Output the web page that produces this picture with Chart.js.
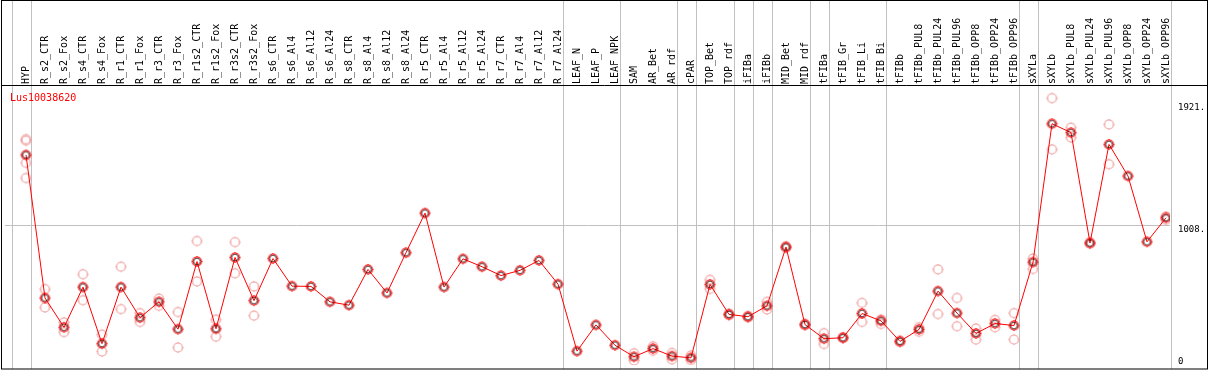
<!DOCTYPE html>
<html>
<head>
<meta charset="utf-8">
<script src="https://cdn.jsdelivr.net/npm/chart.js@4.4.0/dist/chart.umd.min.js"></script>
<style>
    html, body { margin: 0; padding: 0; background: #fff; }
    canvas { display: block; }
</style>
</head>
<body>
<canvas id="expr-chart" width="1209" height="370"></canvas>
<script>
var geneName = 'Lus10038620';

var categories = [
    'HYP', 'R_s2_CTR', 'R_s2_Fox', 'R_s4_CTR', 'R_s4_Fox', 'R_r1_CTR', 'R_r1_Fox', 'R_r3_CTR', 'R_r3_Fox',
    'R_r1s2_CTR', 'R_r1s2_Fox', 'R_r3s2_CTR', 'R_r3s2_Fox', 'R_s6_CTR', 'R_s6_Al4', 'R_s6_Al12', 'R_s6_Al24',
    'R_s8_CTR', 'R_s8_Al4', 'R_s8_Al12', 'R_s8_Al24', 'R_r5_CTR', 'R_r5_Al4', 'R_r5_Al12', 'R_r5_Al24',
    'R_r7_CTR', 'R_r7_Al4', 'R_r7_Al12', 'R_r7_Al24', 'LEAF_N', 'LEAF_P', 'LEAF_NPK', 'SAM', 'AR_Bet', 'AR_rdf',
    'cPAR', 'TOP_Bet', 'TOP_rdf', 'iFIBa', 'iFIBb', 'MID_Bet', 'MID_rdf', 'tFIBa', 'tFIB_Gr', 'tFIB_Li', 'tFIB_Bi',
    'tFIBb', 'tFIBb_PUL8', 'tFIBb_PUL24', 'tFIBb_PUL96', 'tFIBb_OPP8', 'tFIBb_OPP24', 'tFIBb_OPP96',
    'sXYLa', 'sXYLb', 'sXYLb_PUL8', 'sXYLb_PUL24', 'sXYLb_PUL96', 'sXYLb_OPP8', 'sXYLb_OPP24', 'sXYLb_OPP96'
];

// mean expression per sample
var meanValues = [
    1538, 471, 252, 552, 130, 552, 324, 442, 238, 743, 241, 773, 451, 765, 559, 557, 442, 417, 684, 508,
    809, 1104, 552, 763, 704, 638, 677, 751, 574, 74, 270, 118, 32, 93, 37, 24, 572, 348, 331, 412,
    851, 272, 167, 174, 355, 300, 147, 236, 522, 358, 206, 280, 265, 738, 1771, 1705, 881, 1617, 1381, 890,
    1069
];

// replicates (null = none shown)
var repA = [
    1656, 537, 289, 648, 197, 704, 358, 466, 366, 896, 309, 888, 557, null, null, null, null, null, null, null,
    null, null, null, null, null, null, null, null, null, null, null, null, 58, 110, 61, 42, 606, 356, 337, 442,
    857, 279, 208, 178, 434, 311, 155, 252, 684, 471, 243, 307, 358, 765, 1962, 1742, 887, 1766, null, null,
    1079
];
var repB = [
    1479, 400, 216, 454, 71, 388, 292, 412, 101, 594, 182, 655, 339, null, null, null, null, null, null, null,
    null, null, null, null, null, null, null, null, null, null, null, null, 4, 77, 13, 7, 538, 340, 325, 385,
    845, 265, 127, 170, 292, 277, 140, 219, 351, 260, 160, 252, 160, 687, 1580, 1668, 875, 1469, null, null,
    1054
];
var repC = [1645];
var repD = [1366];

var yTicks = [0, 1008, 1921];
var yTickLabels = ['0', '1008.', '1921.'];
// group separators sit just after these sample indexes
var groupEnds = [-1, 0, 28, 31, 34, 35, 37, 38, 39, 41, 42, 45, 52, 53, 60];

var MONO = '"DejaVu Sans Mono", "Liberation Mono", monospace';

function toPoints(arr) {
    var pts = [];
    arr.forEach(function (v, i) {
        if (v !== null && v !== undefined) pts.push({ x: i, y: v });
    });
    return pts;
}

function makeMarker(ring, inner) {
    var c = document.createElement('canvas');
    c.width = 15; c.height = 15;
    var g = c.getContext('2d');
    g.strokeStyle = ring;
    g.lineWidth = 1.2;
    g.beginPath(); g.arc(7.5, 7.5, 4.5, 0, Math.PI * 2); g.stroke();
    g.lineWidth = 1;
    g.beginPath();
    g.moveTo(7.5, 2); g.lineTo(7.5, 3);
    g.moveTo(7.5, 12); g.lineTo(7.5, 13);
    g.moveTo(2, 7.5); g.lineTo(3, 7.5);
    g.moveTo(12, 7.5); g.lineTo(13, 7.5);
    g.stroke();
    if (inner) {
        g.strokeStyle = inner;
        g.lineWidth = 0.8;
        g.beginPath(); g.arc(7.5, 7.5, 3.3, 0, Math.PI * 2); g.stroke();
    }
    return c;
}

var meanMarker = makeMarker('#ff0000', '#200000');
var repMarker = makeMarker('#ee9a9a', null);

var framePlugin = {
    id: 'frame',
    beforeDatasetsDraw: function (chart) {
        var ctx = chart.ctx;
        var xs = chart.scales.x;
        ctx.save();
        ctx.strokeStyle = '#c0c0c0';
        ctx.lineWidth = 1;
        groupEnds.forEach(function (i) {
            var px = Math.round(xs.getPixelForValue(i + 0.25)) + 0.5;
            ctx.beginPath();
            ctx.moveTo(px, 0);
            ctx.lineTo(px, 369);
            ctx.stroke();
        });
        ctx.restore();
    },
    afterDraw: function (chart) {
        var ctx = chart.ctx;
        var ys = chart.scales.y;
        ctx.save();
        ctx.strokeStyle = '#000';
        ctx.lineWidth = 1;
        ctx.strokeRect(1.5, 0.5, 1206, 368.5);
        ctx.beginPath();
        ctx.moveTo(1, 85.5);
        ctx.lineTo(1208, 85.5);
        ctx.stroke();

        ctx.fillStyle = '#ff0000';
        ctx.font = '10px ' + MONO;
        ctx.textBaseline = 'alphabetic';
        ctx.textAlign = 'left';
        ctx.fillText(geneName, 10, 101);

        ctx.fillStyle = '#000';
        ctx.font = '9px ' + MONO;
        ctx.textBaseline = 'middle';
        yTicks.forEach(function (v, k) {
            var py = Math.min(ys.getPixelForValue(v) + 4, 361.5);
            ctx.fillText(yTickLabels[k], 1178, py);
        });
        ctx.restore();
    }
};

new Chart(document.getElementById('expr-chart').getContext('2d'), {
    type: 'line',
    data: {
        datasets: [{
            data: toPoints(meanValues),
            borderColor: '#ff0000',
            borderWidth: 1,
            tension: 0,
            pointStyle: meanMarker,
            order: 0
        }, {
            data: toPoints(repA),
            showLine: false,
            pointStyle: repMarker,
            order: 1
        }, {
            data: toPoints(repB),
            showLine: false,
            pointStyle: repMarker,
            order: 1
        }, {
            data: toPoints(repC),
            showLine: false,
            pointStyle: repMarker,
            order: 1
        }, {
            data: toPoints(repD),
            showLine: false,
            pointStyle: repMarker,
            order: 1
        }]
    },
    options: {
        responsive: false,
        animation: false,
        devicePixelRatio: 1,
        layout: { padding: { left: 1, right: 1, top: 0, bottom: 1 } },
        plugins: { legend: { display: false }, tooltip: { enabled: false } },
        scales: {
            x: {
                type: 'linear',
                position: 'top',
                min: -21 / 19,
                max: 60 + 4 / 19,
                afterBuildTicks: function (scale) {
                    scale.ticks = categories.map(function (c, i) { return { value: i }; });
                },
                afterFit: function (scale) {
                    scale.height = 85;
                    scale.paddingLeft = 0;
                    scale.paddingRight = 0;
                },
                grid: { display: false, drawTicks: false },
                border: { display: false },
                ticks: {
                    autoSkip: false,
                    minRotation: 90,
                    maxRotation: 90,
                    padding: 1,
                    labelOffset: 12,
                    color: '#000',
                    font: { family: MONO, size: 10 },
                    callback: function (v) { return categories[v]; }
                }
            },
            y: {
                type: 'linear',
                position: 'right',
                min: -4 * 1008 / 137,
                max: 280 * 1008 / 137,
                afterBuildTicks: function (scale) {
                    scale.ticks = yTicks.map(function (v) { return { value: v }; });
                },
                afterFit: function (scale) {
                    scale.width = 38;
                    scale.paddingTop = 0;
                    scale.paddingBottom = 0;
                },
                grid: {
                    drawTicks: false,
                    color: function (c) { return c.tick && c.tick.value === 1008 ? '#c0c0c0' : 'rgba(0,0,0,0)'; }
                },
                border: { display: false },
                ticks: { display: false }
            }
        }
    },
    plugins: [framePlugin]
});
</script>
</body>
</html>
